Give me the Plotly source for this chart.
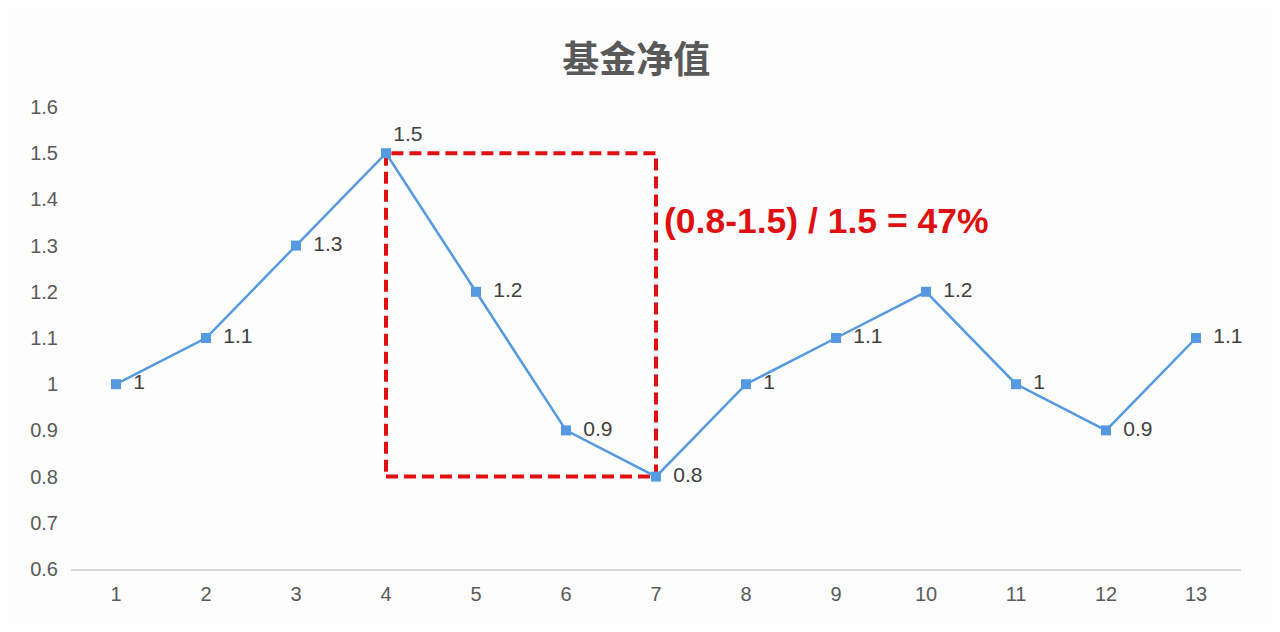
import plotly.graph_objects as go

categories = list(range(1, 14))
nav_values = [1.0, 1.1, 1.3, 1.5, 1.2, 0.9, 0.8, 1.0, 1.1, 1.2, 1.0, 0.9, 1.1]
value_labels = ["1", "1.1", "1.3", "1.5", "1.2", "0.9", "0.8", "1", "1.1", "1.2", "1", "0.9", "1.1"]
y_ticks = [0.6, 0.7, 0.8, 0.9, 1.0, 1.1, 1.2, 1.3, 1.4, 1.5, 1.6]
title_text = "基金净值"

# drawdown: peak and subsequent trough
peak_i = nav_values.index(max(nav_values))
trough_i = peak_i + nav_values[peak_i:].index(min(nav_values[peak_i:]))
peak_x, peak_y = categories[peak_i], nav_values[peak_i]
trough_x, trough_y = categories[trough_i], nav_values[trough_i]
dd = abs((trough_y - peak_y) / peak_y)
dd_text = f"({trough_y:g}-{peak_y:g}) / {peak_y:g} = {dd*100:.0f}%"

positions = ["middle right"] * len(categories)
positions[peak_i] = "top right"
shown_labels = ["\u00a0\u2009" + t for t in value_labels]
shown_labels[peak_i] = value_labels[peak_i]

fig = go.Figure()
fig.add_trace(go.Scatter(
    x=categories, y=nav_values, mode="lines+markers+text",
    line=dict(color="#5599E0", width=2.5),
    marker=dict(symbol="square", size=10, color="#5599E0"),
    text=shown_labels, textposition=positions,
    textfont=dict(family="Liberation Sans, Arial, sans-serif", size=21, color="#404040"),
    cliponaxis=False, showlegend=False,
))

fig.add_shape(type="rect", xref="x", yref="y",
              x0=peak_x, x1=trough_x, y0=trough_y, y1=peak_y,
              line=dict(color="#E01010", width=4, dash="12px,6px"), layer="below")

fig.add_annotation(x=trough_x, y=1.353, xref="x", yref="y", text=f"<b>{dd_text}</b>",
                   showarrow=False, xanchor="left", xshift=6,
                   font=dict(family="Liberation Sans, Arial, sans-serif", size=35.5, color="#E01010"))

fig.update_layout(
    width=1264, height=616,
    margin=dict(l=63, r=31, t=99, b=55),
    paper_bgcolor="#FDFDFD", plot_bgcolor="#FDFDFD",
    title=dict(text=f"<b>{title_text}</b>", x=0.497, xanchor="center", y=0.916, yanchor="middle",
               font=dict(family="Noto Sans CJK SC", size=37, color="#595959")),
    xaxis=dict(range=[0.5, 13.5], tickmode="array", tickvals=categories,
               ticktext=[str(c) for c in categories], showgrid=False, zeroline=False,
               showline=True, linecolor="#D9D9D9", linewidth=1.5, ticks="",
               ticklabelstandoff=6,
               tickfont=dict(family="Liberation Sans, Arial, sans-serif", size=20, color="#595959")),
    yaxis=dict(range=[0.6, 1.6], tickmode="array", tickvals=y_ticks,
               ticktext=[f"{v:g}" for v in y_ticks], showgrid=False, zeroline=False,
               showline=False, ticks="", ticklabelstandoff=12,
               tickfont=dict(family="Liberation Sans, Arial, sans-serif", size=20, color="#595959")),
)

fig.write_html("out.html")
